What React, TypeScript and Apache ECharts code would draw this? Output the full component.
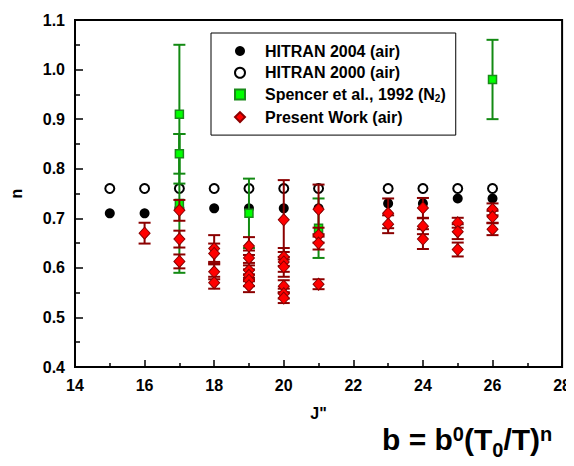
import React, { useEffect, useRef } from "react";
import * as echarts from "echarts";

const hitran2004J = [15, 16, 17, 18, 19, 20, 21, 23, 24, 25, 26];
const hitran2004N = [0.71, 0.71, 0.72, 0.72, 0.72, 0.72, 0.72, 0.73, 0.73, 0.74, 0.74];
const hitran2000J = [15, 16, 17, 18, 19, 20, 21, 23, 24, 25, 26];
const hitran2000N = [0.76, 0.76, 0.76, 0.76, 0.76, 0.76, 0.76, 0.76, 0.76, 0.76, 0.76];
const spencerJ = [17, 17, 17, 19, 21, 26];
const spencerN = [0.91, 0.83, 0.73, 0.71, 0.68, 0.98];
const spencerErr = [0.14, 0.04, 0.14, 0.07, 0.06, 0.08];
const presentJ = [
  16,
  17, 17, 17,
  18, 18, 18, 18,
  19, 19, 19, 19, 19, 19,
  20, 20, 20, 20, 20, 20, 20,
  21, 21, 21, 21,
  23, 23,
  24, 24, 24,
  25, 25, 25,
  26, 26, 26,
];
const presentN = [
  0.67,
  0.716, 0.658, 0.613,
  0.639, 0.629, 0.592, 0.57,
  0.644, 0.62, 0.595, 0.585, 0.575, 0.564,
  0.697, 0.622, 0.612, 0.602, 0.563, 0.548, 0.539,
  0.718, 0.666, 0.65, 0.567,
  0.71, 0.688,
  0.721, 0.684, 0.658,
  0.691, 0.673, 0.637,
  0.718, 0.703, 0.678,
];
const presentErr = [
  0.021,
  0.021, 0.017, 0.014,
  0.027, 0.02, 0.015, 0.012,
  0.018, 0.015, 0.015, 0.012, 0.012, 0.013,
  0.08, 0.018, 0.02, 0.02, 0.012, 0.01, 0.01,
  0.05, 0.015, 0.013, 0.01,
  0.03, 0.018,
  0.02, 0.016, 0.02,
  0.01, 0.015, 0.014,
  0.012, 0.012, 0.012,
];
const xTicks = [14, 16, 18, 20, 22, 24, 26, 28];
const yTicks = [0.4, 0.5, 0.6, 0.7, 0.8, 0.9, 1.0, 1.1];

const FONT = "'Liberation Sans', Arial, Helvetica, sans-serif";

function errRender(color: string) {
  return (params: any, api: any) => {
    const x = api.value(0);
    const lo = api.value(1);
    const hi = api.value(2);
    const pLo = api.coord([x, lo]);
    const pHi = api.coord([x, hi]);
    const hw = 6;
    const st = { stroke: color, lineWidth: 2 };
    return {
      type: "group",
      children: [
        { type: "line", shape: { x1: pLo[0], y1: pLo[1], x2: pHi[0], y2: pHi[1] }, style: st },
        { type: "line", shape: { x1: pLo[0] - hw, y1: pLo[1], x2: pLo[0] + hw, y2: pLo[1] }, style: st },
        { type: "line", shape: { x1: pHi[0] - hw, y1: pHi[1], x2: pHi[0] + hw, y2: pHi[1] }, style: st },
      ],
    };
  };
}

export default function App() {
  const ref = useRef<HTMLDivElement>(null);
  useEffect(() => {
    if (!ref.current) return;
    const chart = echarts.init(ref.current, null, { renderer: "svg" });
    const spencerName = "Spencer et al., 1992 (N2)";
    const option: any = {
      animation: false,
      backgroundColor: "#fff",
      grid: {
        left: 69,
        right: 10,
        top: 20,
        bottom: 99,
        show: true,
        borderColor: "#000",
        borderWidth: 2,
        backgroundColor: "transparent",
      },
      legend: {
        orient: "vertical",
        left: 211,
        top: 33,
        padding: [10, 10, 10, 23],
        backgroundColor: "#fff",
        borderColor: "#000",
        borderWidth: 1,
        borderRadius: 0,
        itemWidth: 10,
        itemHeight: 10,
        itemGap: 5.7,
        selectedMode: false,
        data: [
          { name: "HITRAN 2004 (air)", icon: "circle" },
          { name: "HITRAN 2000 (air)", icon: "circle" },
          { name: spencerName, icon: "rect" },
          { name: "Present Work (air)", icon: "diamond" },
        ],
        formatter: (name: string) =>
          name === spencerName ? "{a|Spencer et al., 1992 (N}{sub|2}{a|)}" : "{a|" + name + "}",
        textStyle: {
          fontFamily: FONT,
          fontWeight: "bold",
          fontSize: 16,
          color: "#000",
          padding: [0, 0, 0, 15],
          rich: {
            a: { fontFamily: FONT, fontWeight: "bold", fontSize: 16, lineHeight: 18, color: "#000" },
            sub: {
              fontFamily: FONT,
              fontWeight: "bold",
              fontSize: 10,
              lineHeight: 10,
              verticalAlign: "bottom",
              color: "#000",
            },
          },
        },
      },
      xAxis: {
        type: "value",
        min: xTicks[0],
        max: xTicks[xTicks.length - 1],
        interval: 2,
        name: 'J"',
        nameLocation: "middle",
        nameGap: 38,
        nameTextStyle: { fontFamily: FONT, fontWeight: "bold", fontSize: 16, color: "#000" },
        axisLine: { show: true, lineStyle: { color: "#000", width: 2 } },
        axisTick: { show: true, inside: true, length: 7, lineStyle: { color: "#000", width: 1.5 } },
        minorTick: { show: true, splitNumber: 2, length: 4, lineStyle: { color: "#000", width: 1.5 } },
        splitLine: { show: false },
        axisLabel: {
          margin: 10,
          fontFamily: FONT,
          fontWeight: "bold",
          fontSize: 16,
          color: "#000",
          formatter: (v: number) => (xTicks.includes(v) ? String(v) : ""),
        },
      },
      yAxis: {
        type: "value",
        min: yTicks[0],
        max: yTicks[yTicks.length - 1],
        interval: 0.1,
        name: "n",
        nameLocation: "middle",
        nameGap: 51,
        nameRotate: 90,
        nameTextStyle: { fontFamily: FONT, fontWeight: "bold", fontSize: 16, color: "#000" },
        axisLine: { show: true, lineStyle: { color: "#000", width: 2 } },
        axisTick: { show: true, inside: true, length: 8, lineStyle: { color: "#000", width: 1.5 } },
        minorTick: { show: true, splitNumber: 2, length: 5, lineStyle: { color: "#000", width: 1.5 } },
        splitLine: { show: false },
        axisLabel: {
          margin: 10,
          fontFamily: FONT,
          fontWeight: "bold",
          fontSize: 16,
          color: "#000",
          formatter: (v: number) => v.toFixed(1),
        },
      },
      series: [
        {
          name: "HITRAN 2000 (air)",
          type: "scatter",
          symbol: "circle",
          symbolSize: 9,
          itemStyle: { color: "#fff", borderColor: "#000", borderWidth: 2, opacity: 1 },
          data: hitran2000J.map((j, i) => [j, hitran2000N[i]]),
          z: 2,
        },
        {
          name: "HITRAN 2004 (air)",
          type: "scatter",
          symbol: "circle",
          symbolSize: 10,
          itemStyle: { color: "#000", opacity: 1 },
          data: hitran2004J.map((j, i) => [j, hitran2004N[i]]),
          z: 3,
        },
        {
          type: "custom",
          renderItem: errRender("#138a13"),
          encode: { x: 0, y: [1, 2] },
          data: spencerJ.map((j, i) => [j, spencerN[i] - spencerErr[i], spencerN[i] + spencerErr[i]]),
          z: 4,
          silent: true,
        },
        {
          name: spencerName,
          type: "scatter",
          symbol: "rect",
          symbolSize: 8,
          itemStyle: { color: "#00ff00", borderColor: "#1a8a1a", borderWidth: 1.5, opacity: 1 },
          data: spencerJ.map((j, i) => [j, spencerN[i]]),
          z: 5,
        },
        {
          type: "custom",
          renderItem: errRender("#8b0000"),
          encode: { x: 0, y: [1, 2] },
          data: presentJ.map((j, i) => [j, presentN[i] - presentErr[i], presentN[i] + presentErr[i]]),
          z: 6,
          silent: true,
        },
        {
          name: "Present Work (air)",
          type: "scatter",
          symbol: "diamond",
          symbolSize: [11, 12],
          itemStyle: { color: "#ff0000", borderColor: "#8b0000", borderWidth: 1, opacity: 1 },
          data: presentJ.map((j, i) => [j, presentN[i]]),
          z: 7,
        },
      ],
      graphic: [
        {
          type: "text",
          left: 382,
          top: 424,
          style: {
            text: "{m|b = b}{sup|0}{m|(T}{sub|0}{m|/T)}{sup|n}",
            fill: "#000",
            rich: {
              m: { fontFamily: FONT, fontWeight: "bold", fontSize: 30, lineHeight: 30, fill: "#000" },
              sup: {
                fontFamily: FONT,
                fontWeight: "bold",
                fontSize: 20,
                lineHeight: 20,
                verticalAlign: "top",
                fill: "#000",
              },
              sub: {
                fontFamily: FONT,
                fontWeight: "bold",
                fontSize: 20,
                lineHeight: 20,
                verticalAlign: "bottom",
                padding: [0, 0, -6, 0],
                fill: "#000",
              },
            },
          },
        },
      ],
    };
    chart.setOption(option);
    return () => chart.dispose();
  }, []);
  return <div ref={ref} style={{ width: 574, height: 466, margin: -8 }} />;
}
